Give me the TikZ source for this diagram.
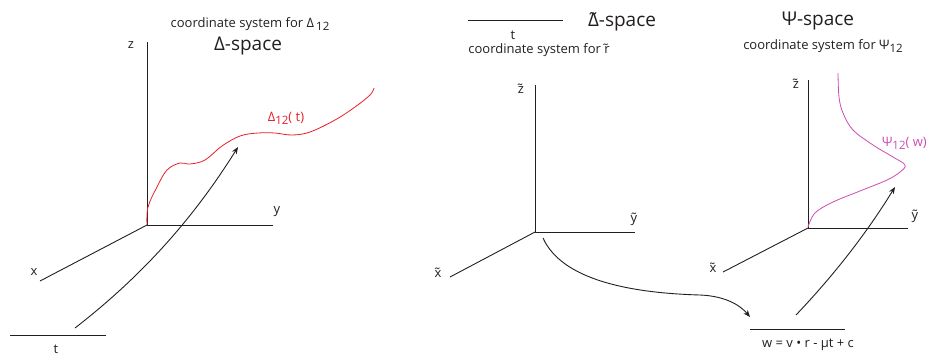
\documentclass[tikz,border=0pt]{standalone}
\usepackage{fontspec}
\setmainfont{Open Sans}
\usetikzlibrary{arrows.meta,positioning,calc}
\definecolor{curvered}{RGB}{232,30,40}
\definecolor{curvepink}{RGB}{204,76,176}
\definecolor{inkgray}{RGB}{35,31,32}
\newcommand{\lowsub}[1]{\raisebox{-0.45ex}{\fontsize{11.5}{12}\selectfont #1}}
\tikzset{axisline/.style={draw=inkgray, line width=0.9pt},
         maparrow/.style={draw=inkgray, line width=0.9pt, -{Stealth[length=7pt,width=5.5pt]}},
         axlabel/.style={font=\fontsize{13}{15}\selectfont, text=inkgray, inner sep=0pt},
         captxt/.style={font=\fontsize{13}{15}\selectfont, text=inkgray, inner sep=0pt},
         spacetxt/.style={font=\fontsize{19}{22}\selectfont, text=inkgray, inner sep=0pt}}

\begin{document}
\begin{tikzpicture}[x=1pt,y=-1pt]
  \useasboundingbox (0,0) rectangle (928,360);
  % Delta-space
  \coordinate (o1) at (147,225);
  \coordinate (z1) at (147,42);
  \coordinate (y1) at (273,225);
  \coordinate (x1) at (40,281);
  \draw[axisline] (z1) -- (o1) -- (y1);
  \draw[axisline] (o1) -- (x1);
  \node[axlabel] (lz1) at (131,45) {z};
  \node[axlabel] (ly1) at (277,212) {y};
  \node[axlabel] (lx1) at (34,272) {x};
  \node[captxt] (cap1) at (250,24) {coordinate system for Δ\,\lowsub{12}};
  \node[spacetxt] (sp1) at (248,46) {Δ-space};
  \coordinate (t1a) at (10,335);
  \coordinate (t1b) at (106,335);
  \draw[axisline] (t1a) -- (t1b);
  \node[axlabel] (lt1) at (56,349) {t};
  \draw[curvered, line width=0.8pt] plot[smooth, tension=0.6] coordinates {
    (147,225) (148,207) (157,187) (167,170) (180,163) (190,164) (205,160)
    (222,146) (240,136) (258,133) (275,133) (292,135) (310,132) (335,120)
    (355,107) (370,95) (374,88)};
  \node[captxt, text=curvered] (ld1) at (286,118) {Δ\lowsub{12}( t)};
  \coordinate (a1s) at (75,328);
  \coordinate (a1e) at (238,147);
  \draw[maparrow] (a1s) .. controls (142,276) and (193,219) .. (a1e);

  % tilde Delta-space
  \coordinate (o2) at (535,232);
  \coordinate (z2) at (535,85);
  \coordinate (y2) at (635,232);
  \coordinate (x2) at (450,277);
  \draw[axisline] (z2) -- (o2) -- (y2);
  \draw[axisline] (o2) -- (x2);
  \node[axlabel] (lz2) at (521,89) {z̃};
  \node[axlabel] (ly2) at (634,219) {ỹ};
  \node[axlabel] (lx2) at (438,273) {x̃};
  \coordinate (t2a) at (468,20);
  \coordinate (t2b) at (563,20);
  \draw[axisline] (t2a) -- (t2b);
  \node[axlabel] (lt2) at (513,35) {t};
  \node[captxt] (cap2) at (539,50) {coordinate system for r̃};
  \node[spacetxt] (sp2) at (622,22) {Δ̃-space};
  \coordinate (a2s) at (543,238);
  \coordinate (a2m) at (700,295);
  \coordinate (a2e) at (750,317);
  \draw[maparrow] (a2s) .. controls (562,280) and (630,293) .. (a2m)
                        .. controls (725,296) and (740,305) .. (a2e);

  % Psi-space
  \coordinate (o3) at (808,228);
  \coordinate (z3) at (808,80);
  \coordinate (y3) at (908,228);
  \coordinate (x3) at (723,272);
  \draw[axisline] (z3) -- (o3) -- (y3);
  \draw[axisline] (o3) -- (x3);
  \node[axlabel] (lz3) at (796,84) {z̃};
  \node[axlabel] (ly3) at (915,216) {ỹ};
  \node[axlabel] (lx3) at (713,268) {x̃};
  \node[spacetxt] (sp3) at (818,21) {Ψ-space};
  \node[captxt] (cap3) at (823,46) {coordinate system for Ψ\lowsub{12}};
  \draw[curvepink, line width=0.8pt] plot[smooth, tension=0.6] coordinates {
    (838,73) (839,97) (843,113) (853,130) (873,145) (893,157) (905,165)
    (900,172) (887,180) (860,191) (833,202) (815,213) (808,227)};
  \node[captxt, text=curvepink, anchor=east] (lp3) at (927,143) {Ψ\lowsub{12}( w)};
  \coordinate (w3a) at (750,329);
  \coordinate (w3b) at (845,329);
  \draw[axisline] (w3a) -- (w3b);
  \node[captxt] (lw3) at (808,345) {w = v • r - μt + c};
  \coordinate (a3s) at (796,315);
  \coordinate (a3e) at (895,187);
  \draw[maparrow] (a3s) .. controls (834,275) and (866,234) .. (a3e);
\end{tikzpicture}
\end{document}
